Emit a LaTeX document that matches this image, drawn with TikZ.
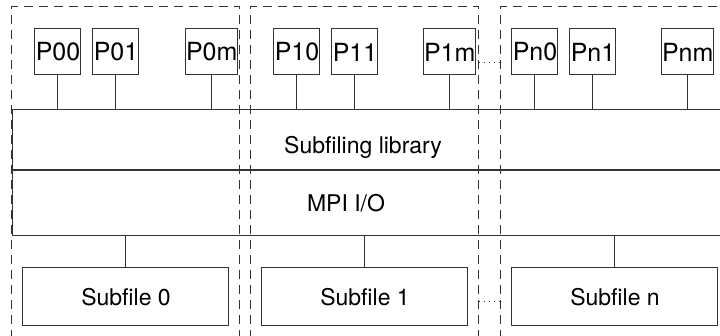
\documentclass[tikz,border=0pt]{standalone}
\usepackage{fontspec}
\setmainfont{TeX Gyre Heros}
\usetikzlibrary{positioning}
\tikzstyle{grpbox}=[draw=black!80, dash pattern=on 4.5pt off 3pt, line width=0.5pt,
					minimum width=114pt, minimum height=165pt, inner sep=0pt]

\begin{document}
\begin{tikzpicture}[x=0.5pt, y=-0.5pt, line width=0.5pt, draw=black!80,
 font=\fontsize{11.5}{14}\selectfont,
 procnode/.style={rectangle, draw=black!80, minimum size=23pt, inner sep=0pt, font=\fontsize{12.5}{14}\selectfont},
 filenode/.style={rectangle, draw=black!80, minimum width=103pt, minimum height=29pt, inner sep=0pt},
 bandnode/.style={rectangle, draw=black!80, minimum width=364pt, inner sep=0pt}
 ]
 \clip (0,0) rectangle (720,336);

 %Groups
 \node[grpbox]  (grp0)  at (126,171.5) {};
 \node[grpbox]  (grp1)  at (365,171.5) {};
 \node[grpbox]  (grpn)  at (615,171.5) {};

 %Nodes
 \node[procnode]      (p00)  at (58,52) {P00};
 \node[procnode]      (p01)  [right=5.5pt of p00] {P01};
 \node[procnode]      (p0m)  [right=23pt of p01] {P0m};

 \node[procnode]      (p10)  at (297,52) {P10};
 \node[procnode]      (p11)  [right=5.5pt of p10] {P11};
 \node[procnode]      (p1m)  [right=22.5pt of p11] {P1m};

 \node[procnode]      (pn0)  at (535,52) {Pn0};
 \node[procnode]      (pn1)  [right=5.5pt of pn0] {Pn1};
 \node[procnode]      (pnm)  [right=22.5pt of pn1] {Pnm};

 \node[bandnode, minimum height=29.75pt, anchor=north west] (lib) at (12,109.5) {};
 \node[bandnode, minimum height=32.5pt]  (mpi)  [below=0pt of lib] {};
 \node (liblabel)  at (363,147) {Subfiling library};
 \node (mpilabel)  at (346,203) {MPI I/O};

 \node[filenode]      (sf0)  at (126,297) {Subfile 0};
 \node[filenode]      (sf1)  at (365,297) {Subfile 1};
 \node[filenode]      (sfn)  at (615,297) {Subfile n};

 %Lines
 \foreach \p in {p00,p01,p0m,p10,p11,p1m,pn0,pn1,pnm}
   \draw (\p.south) -- (\p.south |- lib.north);
 \foreach \s in {sf0,sf1,sfn}
   \draw (\s.north |- mpi.south) -- (\s.north);
 \draw[dotted] (grp1.east |- 0,63) -- (grpn.west |- 0,63);
 \draw[dotted] (grp1.east |- 0,302) -- (grpn.west |- 0,302);
\end{tikzpicture}
\end{document}
